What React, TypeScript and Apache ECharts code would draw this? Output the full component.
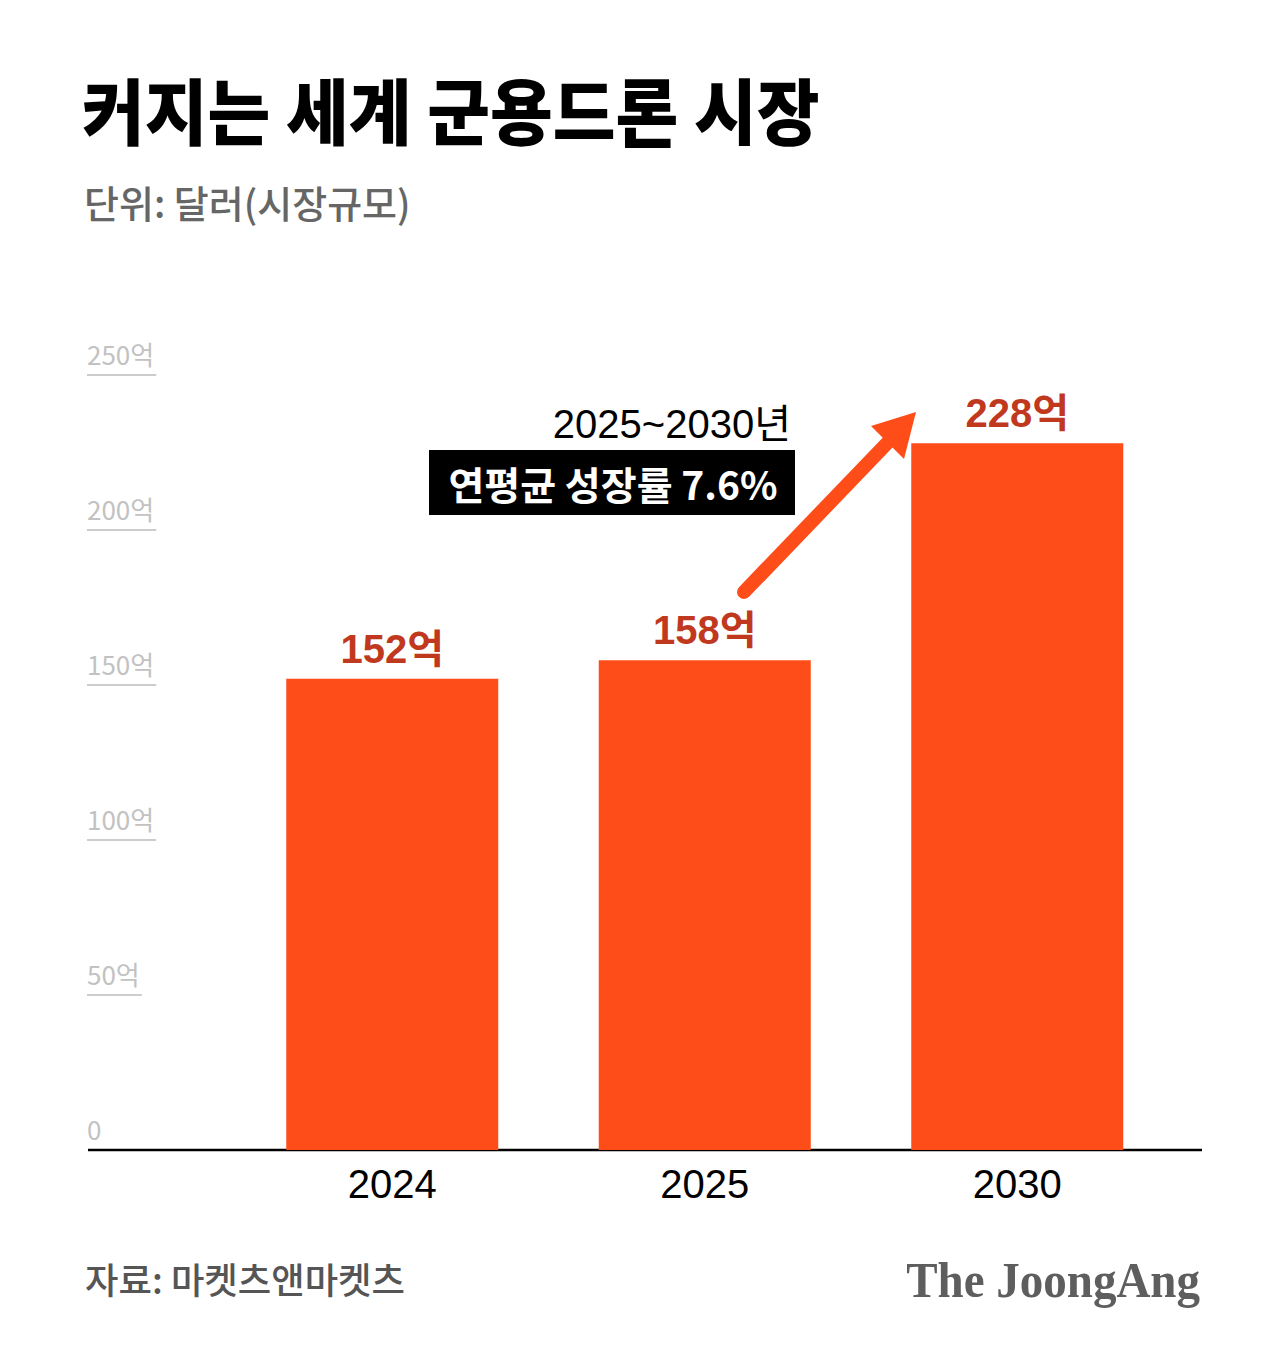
import React, { useEffect, useRef } from "react";
import * as echarts from "echarts";

// Market size, in 억 dollars
const years = ["2024", "2025", "2030"];
const marketSize = [152, 158, 228];

// Value axis ticks and their labels
const yTicks = [0, 50, 100, 150, 200, 250];
const yTickLabels = ["0", "50억", "100억", "150억", "200억", "250억"];

const titleText = "커지는 세계 군용드론 시장";
const unitText = "단위: 달러(시장규모)";
const periodText = "2025~2030년";
const growthText = "연평균 성장률 7.6%";
const sourceText = "자료: 마켓츠앤마켓츠";
const brandText = "The JoongAng";

const KR = "'Noto Sans CJK KR', 'Noto Sans', sans-serif";
const LATIN_KR = "'Liberation Sans', 'Noto Sans CJK KR', sans-serif";
const BAR = "#FF4D1A";
const LABEL_RED = "#C0391E";
const TICK_FONT = `400 26px ${KR}`;

function measure(text: string, font: string): number {
  const c = document.createElement("canvas");
  const ctx = c.getContext("2d");
  if (!ctx) return text.length * 14;
  ctx.font = font;
  return ctx.measureText(text).width;
}

export default function App() {
  const ref = useRef<HTMLDivElement>(null);

  useEffect(() => {
    if (!ref.current) return;
    const chart = echarts.init(ref.current, undefined, { renderer: "svg" });
    const tickWidths = yTickLabels.map((t) => measure(t, TICK_FONT));

    chart.setOption({
      animation: false,
      backgroundColor: "#ffffff",
      grid: { left: 236, right: 106.5, top: 375, bottom: 199, containLabel: false },
      xAxis: {
        type: "category",
        data: years,
        boundaryGap: true,
        axisLine: { show: false },
        axisTick: { show: false },
        axisLabel: {
          margin: 14,
          fontSize: 40,
          color: "#000",
          fontFamily: "'Liberation Sans', Arial, sans-serif",
        },
      },
      yAxis: {
        type: "value",
        min: 0,
        max: 250,
        interval: 50,
        axisLine: { show: false },
        axisTick: { show: false },
        axisLabel: { show: false },
        splitLine: { show: false },
      },
      series: [
        {
          type: "bar",
          data: marketSize,
          barWidth: 212,
          itemStyle: { color: BAR },
          label: {
            show: true,
            position: "top",
            distance: 10,
            formatter: "{c}억",
            fontSize: 40,
            fontWeight: "bold",
            color: LABEL_RED,
            fontFamily: LATIN_KR,
          },
        },
        {
          // value-axis tick labels with their short underlines
          type: "custom",
          clip: false,
          silent: true,
          data: yTicks.map((v) => [0, v]),
          encode: { x: 0, y: 1 },
          renderItem: (params: any, api: any) => {
            const v = api.value(1);
            const y = api.coord([0, v])[1];
            const i = params.dataIndex;
            const children: any[] = [
              {
                type: "text",
                x: 87,
                y: y - 9,
                style: {
                  text: yTickLabels[i],
                  font: TICK_FONT,
                  fill: "#c2c2c2",
                  textAlign: "left",
                  textVerticalAlign: "bottom",
                },
              },
            ];
            if (v > 0) {
              children.push({
                type: "line",
                shape: { x1: 87, y1: y, x2: 89 + tickWidths[i], y2: y },
                style: { stroke: "#cccccc", lineWidth: 2 },
              });
            }
            return { type: "group", children };
          },
        },
      ],
      graphic: [
        {
          type: "text",
          x: 82,
          y: 108,
          scaleX: 0.948,
          style: {
            text: titleText,
            font: `900 72px ${KR}`,
            fill: "#000",
            textAlign: "left",
            textVerticalAlign: "middle",
          },
        },
        {
          type: "text",
          x: 84,
          y: 201,
          scaleX: 1.0,
          style: {
            text: unitText,
            font: `500 38px ${KR}`,
            fill: "#666",
            textAlign: "left",
            textVerticalAlign: "middle",
          },
        },
        {
          type: "line",
          shape: { x1: 88, y1: 1150, x2: 1202, y2: 1150 },
          style: { stroke: "#000", lineWidth: 2.5 },
        },
        {
          type: "text",
          x: 791,
          y: 424,
          style: {
            text: periodText,
            font: `400 40px ${LATIN_KR}`,
            fill: "#000",
            textAlign: "right",
            textVerticalAlign: "middle",
          },
        },
        {
          type: "rect",
          shape: { x: 429, y: 450, width: 366, height: 65 },
          style: { fill: "#000" },
        },
        {
          type: "text",
          x: 613,
          y: 483,
          style: {
            text: growthText,
            font: `bold 39px ${KR}`,
            fill: "#fff",
            textAlign: "center",
            textVerticalAlign: "middle",
          },
        },
        {
          type: "line",
          shape: { x1: 744, y1: 592, x2: 893, y2: 437 },
          style: { stroke: BAR, lineWidth: 14, lineCap: "round" },
        },
        {
          type: "polygon",
          shape: { points: [[916, 412], [871, 426], [904, 459]] },
          style: { fill: BAR },
        },
        {
          type: "text",
          x: 85,
          y: 1278,
          scaleX: 1.01,
          style: {
            text: sourceText,
            font: `500 36px ${KR}`,
            fill: "#555",
            textAlign: "left",
            textVerticalAlign: "middle",
          },
        },
        {
          type: "text",
          x: 1200,
          y: 1280,
          scaleX: 0.94,
          style: {
            text: brandText,
            font: `bold 50px 'Liberation Serif', 'DejaVu Serif', serif`,
            fill: "#5e5e5e",
            textAlign: "right",
            textVerticalAlign: "middle",
          },
        },
      ],
    });

    return () => chart.dispose();
  }, []);

  return (
    <div
      ref={ref}
      style={{ position: "fixed", left: 0, top: 0, width: 1280, height: 1349, background: "#fff" }}
    />
  );
}
